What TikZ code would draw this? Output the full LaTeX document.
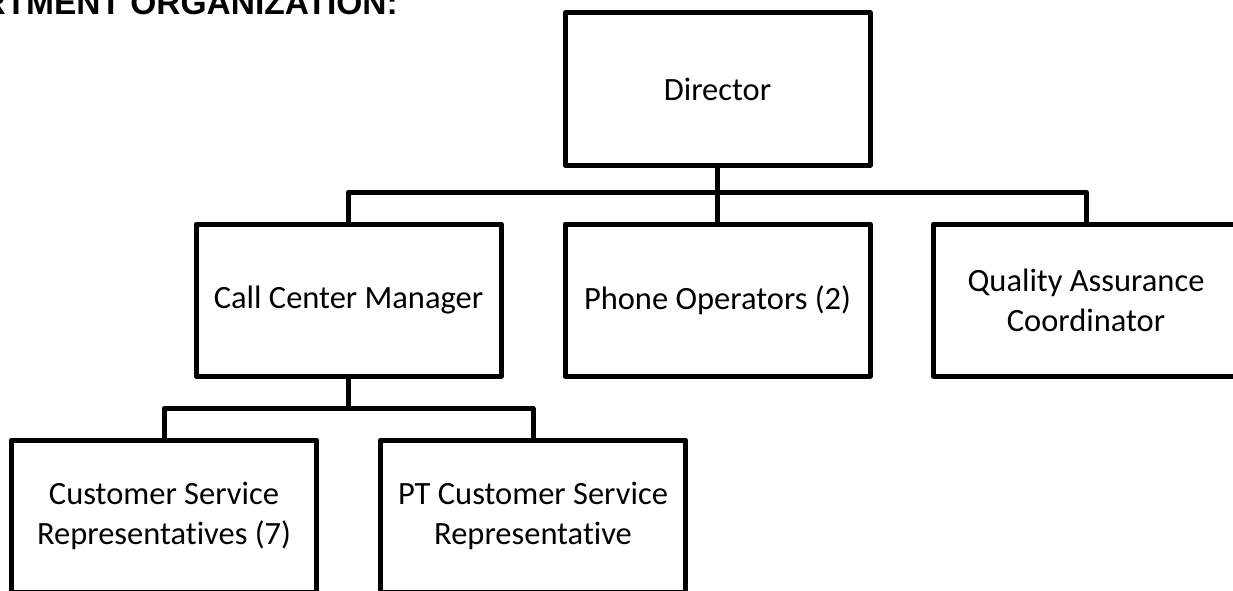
\documentclass[tikz,border=0pt]{standalone}
\usepackage{fontspec}
\setmainfont{Carlito}[Ligatures={NoCommon,NoRequired,NoContextual}]
\newfontfamily\headfont{Liberation Sans}
\usetikzlibrary{positioning}

\begin{document}
\begin{tikzpicture}[x=1pt,y=-1pt]
\tikzstyle{post}=[draw=black,line width=5pt,rectangle,line join=round,
  minimum width=305pt,minimum height=152pt,inner sep=0pt,outer sep=0pt,
  align=center,font=\fontsize{32.5}{40}\selectfont]
\tikzstyle{link}=[draw=black,line width=5pt,line join=round]
\useasboundingbox (0,0) rectangle (1233,591);
\clip (0,0) rectangle (1233,591);
% heading, cut off at the top edge
\node[anchor=base east,inner sep=0pt,font=\headfont\bfseries\fontsize{33.5}{40}\selectfont] (head) at (398,15) {RTMENT ORGANIZATION:};
% top level
\node[post] (dir) at (717.5,89) {Director};
% second level
\node[post] (ccm) at (348.5,300) {Call Center Manager};
\node[post] (ops) at (717.5,300) {Phone Operators (2)};
\node[post] (qa) at (1086,300) {Quality Assurance\\Coordinator};
% third level
\node[post] (csr) at (164,516) {Customer Service\\Representatives (7)};
\node[post] (pt) at (533,516) {PT Customer Service\\Representative};
% connectors
\coordinate (bus) at (717.5,192);
\coordinate (sub) at (348.5,408.5);
\draw[link] (dir.south) -- (ops.north);
\draw[link] (ccm.north) |- (bus) -| (qa.north);
\draw[link] (ccm.south) -- (sub);
\draw[link] (csr.north) |- (sub) -| (pt.north);
\end{tikzpicture}
\end{document}
